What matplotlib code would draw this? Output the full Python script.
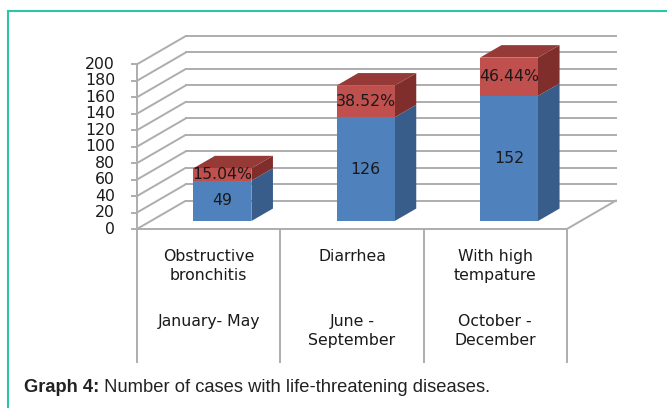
import matplotlib
matplotlib.use("Agg")
import matplotlib.pyplot as plt
from matplotlib.patches import Polygon
from matplotlib.lines import Line2D

# ---- data ----
categories = ["Obstructive\nbronchitis", "Diarrhea", "With high\ntempature"]
periods = ["January- May", "June -\nSeptember", "October -\nDecember"]
cases = [49, 126, 152]
percents = [15.04, 38.52, 46.44]
case_labels = ["49", "126", "152"]
pct_labels = ["15.04%", "38.52%", "46.44%"]
yticks = list(range(0, 201, 20))
caption_bold = "Graph 4:"
caption_text = " Number of cases with life-threatening diseases."

# ---- figure ----
W, H, DPI = 667, 408, 100
fig = plt.figure(figsize=(W / DPI, H / DPI), dpi=DPI)
ax = fig.add_axes([0, 0, 1, 1])
ax.set_axis_off()

# pixel geometry of the chart frame
x0px, y0px = 137.0, 229.0          # front origin (pixel)
cat_px = 143.3                      # px per category
val_px = 164.7 / 200.0              # px per value unit
ax.set_xlim(-x0px / cat_px, (W - x0px) / cat_px)
ax.set_ylim((y0px - H) / val_px, y0px / val_px)

DX = 49.0 / cat_px                  # depth offset in category units
DY = 28.4 / val_px                  # depth offset in value units
ncat = len(categories)
ymax = 200

grid_c = "#ADADAD"
glw = 1.4

def P(x, v, d):
    return (x + d * DX, v + d * DY)

# walls gridlines
for v in yticks:
    ax.plot([0, DX], [v, v + DY], color=grid_c, lw=glw, zorder=1, solid_capstyle="butt")
    ax.plot([DX, ncat + DX], [v + DY, v + DY], color=grid_c, lw=glw, zorder=1)
# floor
ax.plot([0, ncat], [0, 0], color=grid_c, lw=glw, zorder=1)
ax.plot([ncat, ncat + DX], [0, DY], color=grid_c, lw=glw, zorder=1)
# value axis with ticks
ax.plot([0, 0], [0, ymax], color=grid_c, lw=glw, zorder=1)
tick_len = 5.5 / cat_px
for v in yticks:
    ax.plot([-tick_len, 0], [v, v], color=grid_c, lw=glw, zorder=1)
    ax.text(-22 / cat_px, v, str(v), ha="right", va="center", fontsize=11.3,
            color="#1a1a1a", family="DejaVu Sans")
# category dividers
cat_bottom = (y0px - 362) / val_px
for i in range(ncat + 1):
    ax.plot([i, i], [0, cat_bottom], color=grid_c, lw=glw, zorder=1)

# category labels
for i, (c, p) in enumerate(zip(categories, periods)):
    ax.text(i + 0.5, (y0px - 249) / val_px, c, ha="center", va="top", fontsize=11.3,
            color="#1a1a1a", linespacing=1.35, family="DejaVu Sans")
    ax.text(i + 0.5, (y0px - 314) / val_px, p, ha="center", va="top", fontsize=11.3,
            color="#1a1a1a", linespacing=1.35, family="DejaVu Sans")

# bars
bw = 0.405
d0, d1 = 0.28, 0.72
blue_f, blue_s = "#4F81BD", "#385D8A"
red_f, red_s, red_t = "#C0504D", "#7F2E2C", "#953A37"

def draw_segment(xl, xr, vb, vt, fc, sc, tc=None, z=3):
    front = [P(xl, vb, d0), P(xr, vb, d0), P(xr, vt, d0), P(xl, vt, d0)]
    side = [P(xr, vb, d0), P(xr, vb, d1), P(xr, vt, d1), P(xr, vt, d0)]
    ax.add_patch(Polygon(side, closed=True, fc=sc, ec="none", zorder=z))
    if tc is not None:
        top = [P(xl, vt, d0), P(xr, vt, d0), P(xr, vt, d1), P(xl, vt, d1)]
        ax.add_patch(Polygon(top, closed=True, fc=tc, ec="none", zorder=z))
    ax.add_patch(Polygon(front, closed=True, fc=fc, ec="none", zorder=z + 0.5))

for i in range(ncat):
    xl = i + (1 - bw) / 2
    xr = xl + bw
    b = cases[i]
    t = cases[i] + percents[i]
    draw_segment(xl, xr, 0, b, blue_f, blue_s, z=3)
    draw_segment(xl, xr, b, t, red_f, red_s, red_t, z=4)
    cx = i + 0.5 + d0 * DX
    ax.text(cx, b / 2 + d0 * DY, case_labels[i], ha="center", va="center",
            fontsize=11.3, color="#1a1a1a", zorder=6, family="DejaVu Sans")
    ax.text(cx, (b + t) / 2 + d0 * DY, pct_labels[i], ha="center", va="center",
            fontsize=11.3, color="#1a1a1a", zorder=6, family="DejaVu Sans")

# teal frame
teal = "#2EC4A6"
fig.add_artist(Line2D([8 / W, 1], [1 - 11 / H, 1 - 11 / H], color=teal, lw=1.5,
                      transform=fig.transFigure))
fig.add_artist(Line2D([8 / W, 8 / W], [1 - 11 / H, 0], color=teal, lw=1.5,
                      transform=fig.transFigure))

# caption
fig.canvas.draw()
r = fig.canvas.get_renderer()
cap_y = 1 - 388 / H
t1 = fig.text(24 / W, cap_y, caption_bold, ha="left", va="center", fontsize=13.2,
              fontweight="bold", color="#222222", family="Liberation Sans")
bb = t1.get_window_extent(renderer=r)
fig.text(bb.x1 / W, cap_y, caption_text, ha="left", va="center", fontsize=13.2,
         color="#222222", family="Liberation Sans")

fig.savefig("out.png", dpi=DPI)
